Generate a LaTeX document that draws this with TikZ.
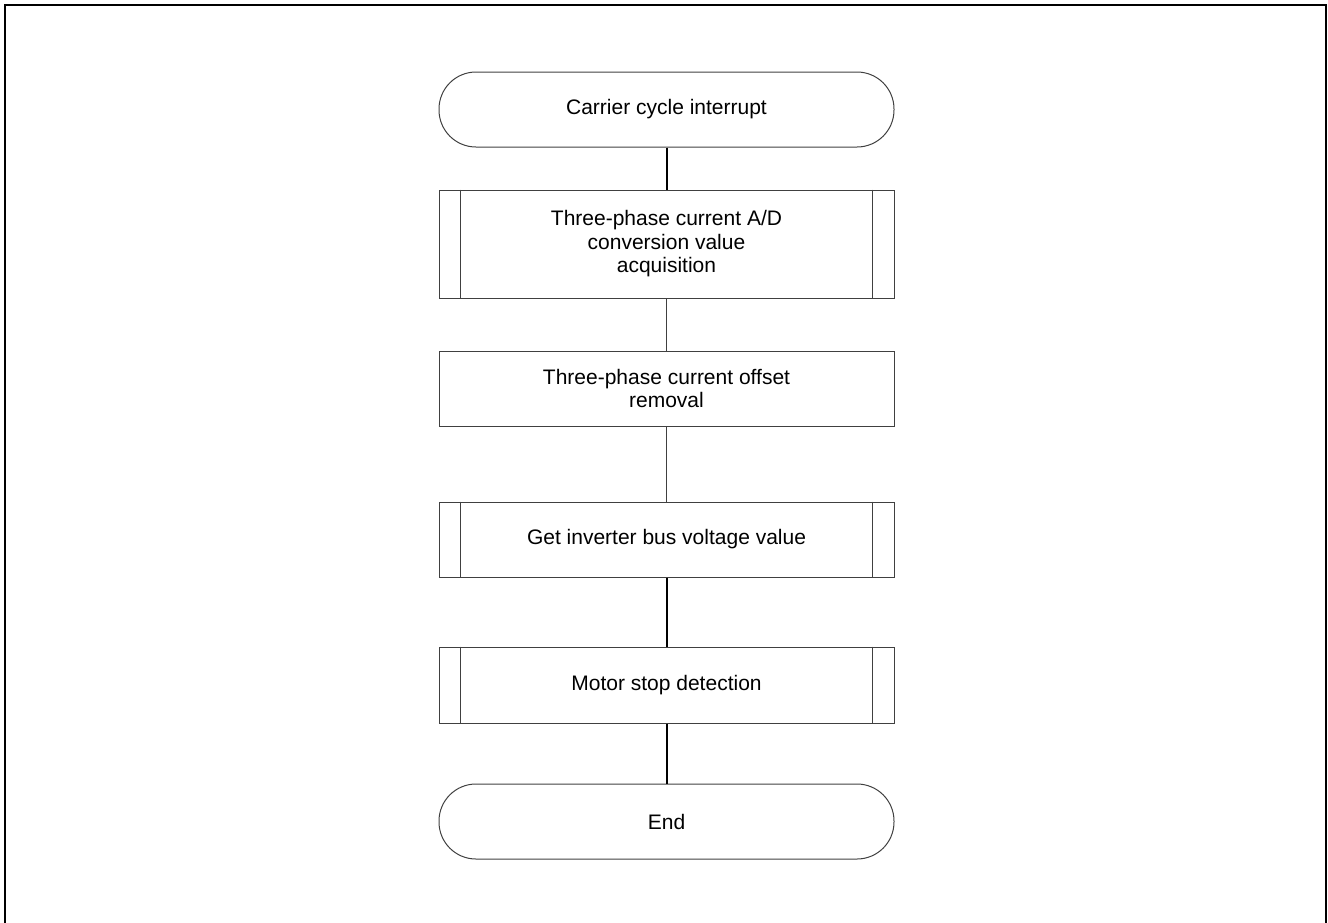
\documentclass[tikz,border=0pt]{standalone}
\usepackage{fontspec}
\setmainfont{Liberation Sans}
\definecolor{edge}{HTML}{404040}
\begin{document}
\begin{tikzpicture}[x=1pt,y=-1pt,
  base/.style={draw=edge,line width=1pt,minimum width=455pt,inner sep=0pt,align=center,font=\fontsize{21}{23.5}\selectfont},
  term/.style={base,rounded corners=37pt,minimum height=75pt},
  proc/.style={base,minimum height=75pt},
  thick/.style={draw=black,line width=2pt},
  thin/.style={draw=edge,line width=1pt}]
\useasboundingbox (0,0) rectangle (1328,922);
\draw[line width=2pt] (5,930) -- (5,5) -- (1326,5) -- (1326,930);
\node[term] (start) at (666.5,109.5) {Carrier cycle interrupt};
\node[proc,minimum height=108pt] (b1) at (666.5,244) {Three-phase current A/D\\conversion value\\acquisition};
\node[proc] (b2) at (666.5,388.5) {Three-phase current offset\\removal};
\node[proc] (b3) at (666.5,539.5) {Get inverter bus voltage value};
\node[proc,minimum height=76pt] (b4) at (666.5,685) {Motor stop detection};
\node[term] (end) at (666.5,821.5) {End};
\foreach \n in {b1,b3,b4}{
  \draw[thin] ([xshift=22pt]\n.north west) -- ([xshift=22pt]\n.south west);
  \draw[thin] ([xshift=-22pt]\n.north east) -- ([xshift=-22pt]\n.south east);
}
\draw[thick] (start) -- (b1);
\draw[thin] (b1) -- (b2);
\draw[thin] (b2) -- (b3);
\draw[thick] (b3) -- (b4);
\draw[thick] (b4) -- (end);
\end{tikzpicture}
\end{document}
